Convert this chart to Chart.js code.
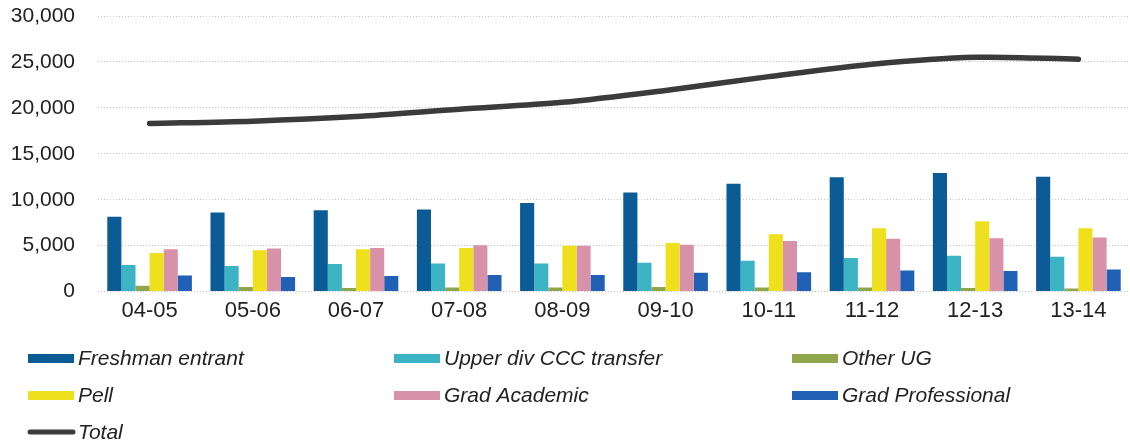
<!DOCTYPE html>
<html>
<head>
<meta charset="utf-8">
<script src="https://cdn.jsdelivr.net/npm/chart.js@4/dist/chart.umd.min.js"></script>
<style>
  html, body { margin: 0; padding: 0; background: #ffffff; }
  #wrap { width: 1130px; height: 447px; position: relative; }
</style>
</head>
<body>
<div id="wrap"><canvas id="c" width="1130" height="447"></canvas></div>
<script>
const categories = ['04-05', '05-06', '06-07', '07-08', '08-09', '09-10', '10-11', '11-12', '12-13', '13-14'];
const freshmanEntrant = [8150, 8600, 8850, 8950, 9650, 10800, 11750, 12450, 12900, 12500];
const upperDivCCC = [2900, 2800, 3000, 3050, 3050, 3150, 3350, 3650, 3900, 3800];
const otherUG = [650, 500, 400, 450, 450, 500, 450, 450, 400, 350];
const pell = [4200, 4500, 4600, 4750, 5000, 5300, 6250, 6900, 7650, 6900];
const gradAcademic = [4600, 4700, 4750, 5050, 5000, 5100, 5500, 5750, 5800, 5900];
const gradProfessional = [1750, 1600, 1700, 1800, 1800, 2050, 2100, 2300, 2250, 2400];
const total = [18300, 18550, 19050, 19850, 20600, 21900, 23400, 24750, 25500, 25300];
const yTicks = [0, 5000, 10000, 15000, 20000, 25000, 30000];

const FONT = '"Liberation Sans", Arial, sans-serif';

const barSeries = [
  { label: 'Freshman entrant', data: freshmanEntrant, color: '#0b5c96' },
  { label: 'Upper div CCC transfer', data: upperDivCCC, color: '#3cb4c4' },
  { label: 'Other UG', data: otherUG, color: '#8fa64c' },
  { label: 'Pell', data: pell, color: '#efe01e' },
  { label: 'Grad Academic', data: gradAcademic, color: '#d792aa' },
  { label: 'Grad Professional', data: gradProfessional, color: '#2061b6' }
];

const datasets = barSeries.map(s => ({
  type: 'bar',
  label: s.label,
  data: s.data,
  backgroundColor: s.color,
  borderWidth: 0,
  barPercentage: 1.0,
  categoryPercentage: 0.82,
  order: 1
}));
datasets.push({
  type: 'line',
  label: 'Total',
  data: total,
  borderColor: '#3b3b3b',
  borderWidth: 5.5,
  tension: 0.3,
  pointRadius: 0,
  fill: false,
  borderCapStyle: 'round',
  order: 0
});

const legendItems = barSeries.map(s => ({ label: s.label, kind: 'box', color: s.color }))
  .concat([{ label: 'Total', kind: 'line', color: '#3b3b3b' }]);
const legendCols = [28, 394, 792];
const legendRows = [358, 395, 432];

const legendPlugin = {
  id: 'gridLegend',
  afterDraw(chart) {
    const ctx = chart.ctx;
    ctx.save();
    ctx.font = 'italic 21px ' + FONT;
    ctx.textBaseline = 'middle';
    legendItems.forEach((it, i) => {
      const x = legendCols[i % 3];
      const y = legendRows[Math.floor(i / 3)];
      if (it.kind === 'box') {
        ctx.fillStyle = it.color;
        ctx.fillRect(x, y - 4, 46, 9);
      } else {
        ctx.strokeStyle = it.color;
        ctx.lineWidth = 5;
        ctx.lineCap = 'round';
        ctx.beginPath();
        ctx.moveTo(x + 2, y);
        ctx.lineTo(x + 45, y);
        ctx.stroke();
      }
      ctx.fillStyle = '#222222';
      ctx.fillText(it.label, x + 50, y + 1);
    });
    ctx.restore();
  }
};

new Chart(document.getElementById('c'), {
  data: { labels: categories, datasets: datasets },
  options: {
    responsive: false,
    animation: false,
    devicePixelRatio: 1,
    layout: { padding: { left: 10, right: 0, top: 0, bottom: 117 } },
    plugins: { legend: { display: false }, tooltip: { enabled: false } },
    scales: {
      x: {
        grid: { display: false, drawTicks: false },
        border: { display: false },
        ticks: { color: '#222222', font: { family: FONT, size: 22 }, padding: 6, maxRotation: 0 }
      },
      y: {
        min: 0,
        max: 30000,
        afterBuildTicks(scale) { scale.ticks = yTicks.map(v => ({ value: v })); },
        afterFit(scale) { scale.width = 88; scale.paddingTop = 16; scale.paddingBottom = 0; },
        grid: { color: '#c4c4c4', lineWidth: 1, drawTicks: false },
        border: { display: false, dash: [1, 2] },
        ticks: {
          color: '#222222',
          font: { family: FONT, size: 21 },
          padding: 23,
          callback: v => v.toLocaleString('en-US')
        }
      }
    }
  },
  plugins: [legendPlugin]
});
</script>
</body>
</html>
